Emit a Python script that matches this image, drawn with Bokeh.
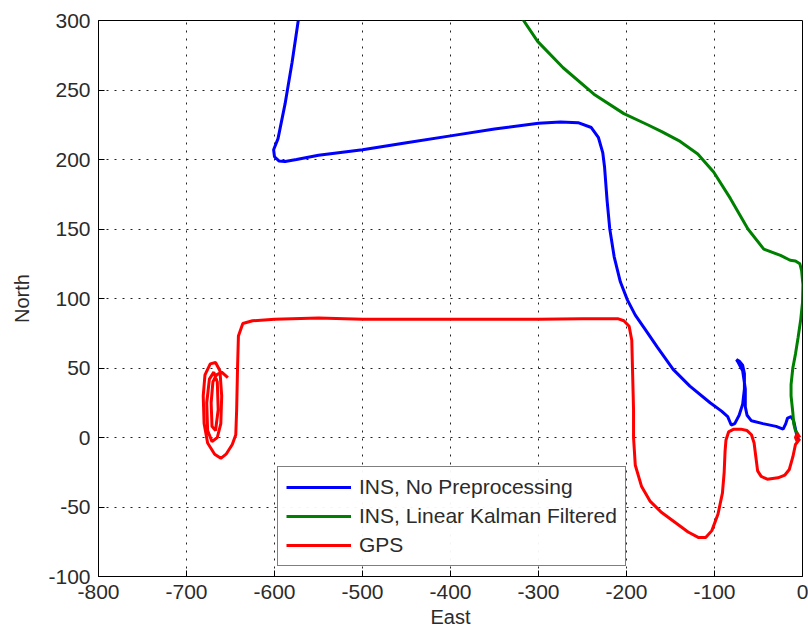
from bokeh.plotting import figure
from bokeh.models import Range1d, Legend, LegendItem, FixedTicker, NumeralTickFormatter
from bokeh.embed import file_html
from bokeh.resources import INLINE

# INS, No Preprocessing (blue)
ins_raw_east = [-566, -573, -580, -588, -596, -601, -600, -595, -588, -575, -550, -500, -450, -400,
                -350, -300, -275, -255, -240, -232, -227, -225, -222, -219, -214, -207, -199,
                -190, -178, -165, -147, -128, -105, -92, -85, -81, -77, -72, -68, -66, -66,
                -68, -72, -75, -73, -68, -65, -65, -63, -58, -45, -30, -22, -19, -17, -13,
                -10, -8, -6, -4]
ins_raw_north = [330, 300, 270, 240, 215, 207, 202, 199, 198.5, 200, 203, 207, 212, 217,
                 222, 226, 227, 226.5, 223, 216, 205, 195, 170, 150, 130, 112, 99,
                 88, 77, 65, 49, 37, 25, 19, 15, 9, 10, 16, 24, 35, 46,
                 52, 55, 56, 54, 48, 35, 22, 16, 12, 10, 8, 6, 10, 14, 15,
                 12, 6, 0, -2]

# INS, Linear Kalman Filtered (green)
ins_kf_east = [-5, -8, -10, -11, -13, -13, -11, -8, -5, -2, 0, 0.5, -1, -3, -8, -14, -25,
               -44, -62, -82, -101, -119, -139, -160, -176, -203, -237, -272, -301, -317, -330]
ins_kf_north = [2, 5, 10, 18, 30, 38, 50, 60, 72, 85, 97, 110, 120, 125, 127, 127.5, 131,
                135.5, 150, 172, 191, 204, 213, 220, 225, 233, 247, 266, 285, 300, 312]

# GPS (red)
gps_east = [-3, -6, -8, -6, -3, -8, -11, -15, -20, -28, -40, -47, -51, -53, -55, -58, -63,
            -70, -78, -84, -87, -88, -89, -91, -96, -103, -110, -118, -130, -145, -160,
            -173, -183, -190, -192, -192, -193, -194, -197, -203, -210, -250, -300, -400,
            -500, -550, -600, -625, -636, -641, -642, -643, -644, -648, -655, -661, -668,
            -676, -680, -681, -679, -673, -667, -662, -660, -661, -665, -671, -676, -677,
            -674, -669, -665, -664, -667, -671, -672, -670, -666, -660, -653]
gps_north = [0, 3, 0, -3, -1, -5, -14, -23, -27, -29, -30, -28, -24, -14, -4, 2, 5,
             6, 6, 4, -2, -10, -25, -40, -55, -67, -72, -72, -68, -61, -54,
             -46, -35, -20, 0, 20, 45, 70, 80, 84, 85.5, 85.5, 85, 85,
             85, 86, 85, 84, 82, 73, 50, 20, 2, -5, -12, -15, -12,
             -4, 10, 30, 45, 53, 54, 48, 30, 10, 0, -3, 5, 25,
             42, 47, 40, 20, 5, 8, 25, 40, 45, 47, 43]

x_ticks = [-800, -700, -600, -500, -400, -300, -200, -100, 0]
y_ticks = [-100, -50, 0, 50, 100, 150, 200, 250, 300]

FONT = "Liberation Sans"
TXT = "#2b2b2b"

p = figure(width=808, height=634, output_backend="svg", toolbar_location=None,
           x_range=Range1d(-800, 0), y_range=Range1d(-100, 300),
           min_border_left=98, min_border_right=6, min_border_top=20, min_border_bottom=58)
p.frame_width = 704
p.frame_height = 556
p.outline_line_color = "black"
p.outline_line_width = 1

def style_axis(ax):
    ax.major_tick_in = 6
    ax.major_tick_out = 0
    ax.minor_tick_in = 0
    ax.minor_tick_out = 0
    ax.axis_line_color = "black"
    ax.major_tick_line_color = "black"
    ax.major_label_text_font = FONT
    ax.major_label_text_color = TXT
    ax.major_label_text_font_size = "21px"
    ax.axis_label_text_font = FONT
    ax.axis_label_text_font_size = "20px"
    ax.axis_label_text_font_style = "normal"
    ax.axis_label_text_color = TXT
    ax.formatter = NumeralTickFormatter(format="0")

p.xaxis.ticker = FixedTicker(ticks=x_ticks)
p.yaxis.ticker = FixedTicker(ticks=y_ticks)
p.xaxis.axis_label = "East"
p.yaxis.axis_label = "North"
style_axis(p.xaxis[0])
style_axis(p.yaxis[0])
p.xaxis.major_label_standoff = 8
p.yaxis.major_label_standoff = 8
p.xaxis.axis_label_standoff = 4
p.yaxis.axis_label_standoff = 12

for g in (p.xgrid[0], p.ygrid[0]):
    g.grid_line_color = "#222222"
    g.grid_line_dash = "2 6"
    g.grid_line_width = 1

r1 = p.line(ins_raw_east, ins_raw_north, line_color="#0000FF", line_width=3)
r2 = p.line(ins_kf_east, ins_kf_north, line_color="#008000", line_width=3)
r3 = p.line(gps_east, gps_north, line_color="#FF0000", line_width=3)

legend = Legend(items=[LegendItem(label="INS, No Preprocessing", renderers=[r1]),
                       LegendItem(label="INS, Linear Kalman Filtered", renderers=[r2]),
                       LegendItem(label="GPS", renderers=[r3])],
                location=(179, 10))
legend.label_text_font = FONT
legend.label_text_font_size = "21px"
legend.label_text_color = TXT
legend.glyph_width = 65
legend.glyph_height = 20
legend.label_height = 20
legend.spacing = 5
legend.padding = 8
legend.margin = 0
legend.border_line_color = "black"
legend.border_line_width = 1
legend.label_standoff = 8
p.add_layout(legend, "center")

open("out.html", "w").write(file_html(p, INLINE))
